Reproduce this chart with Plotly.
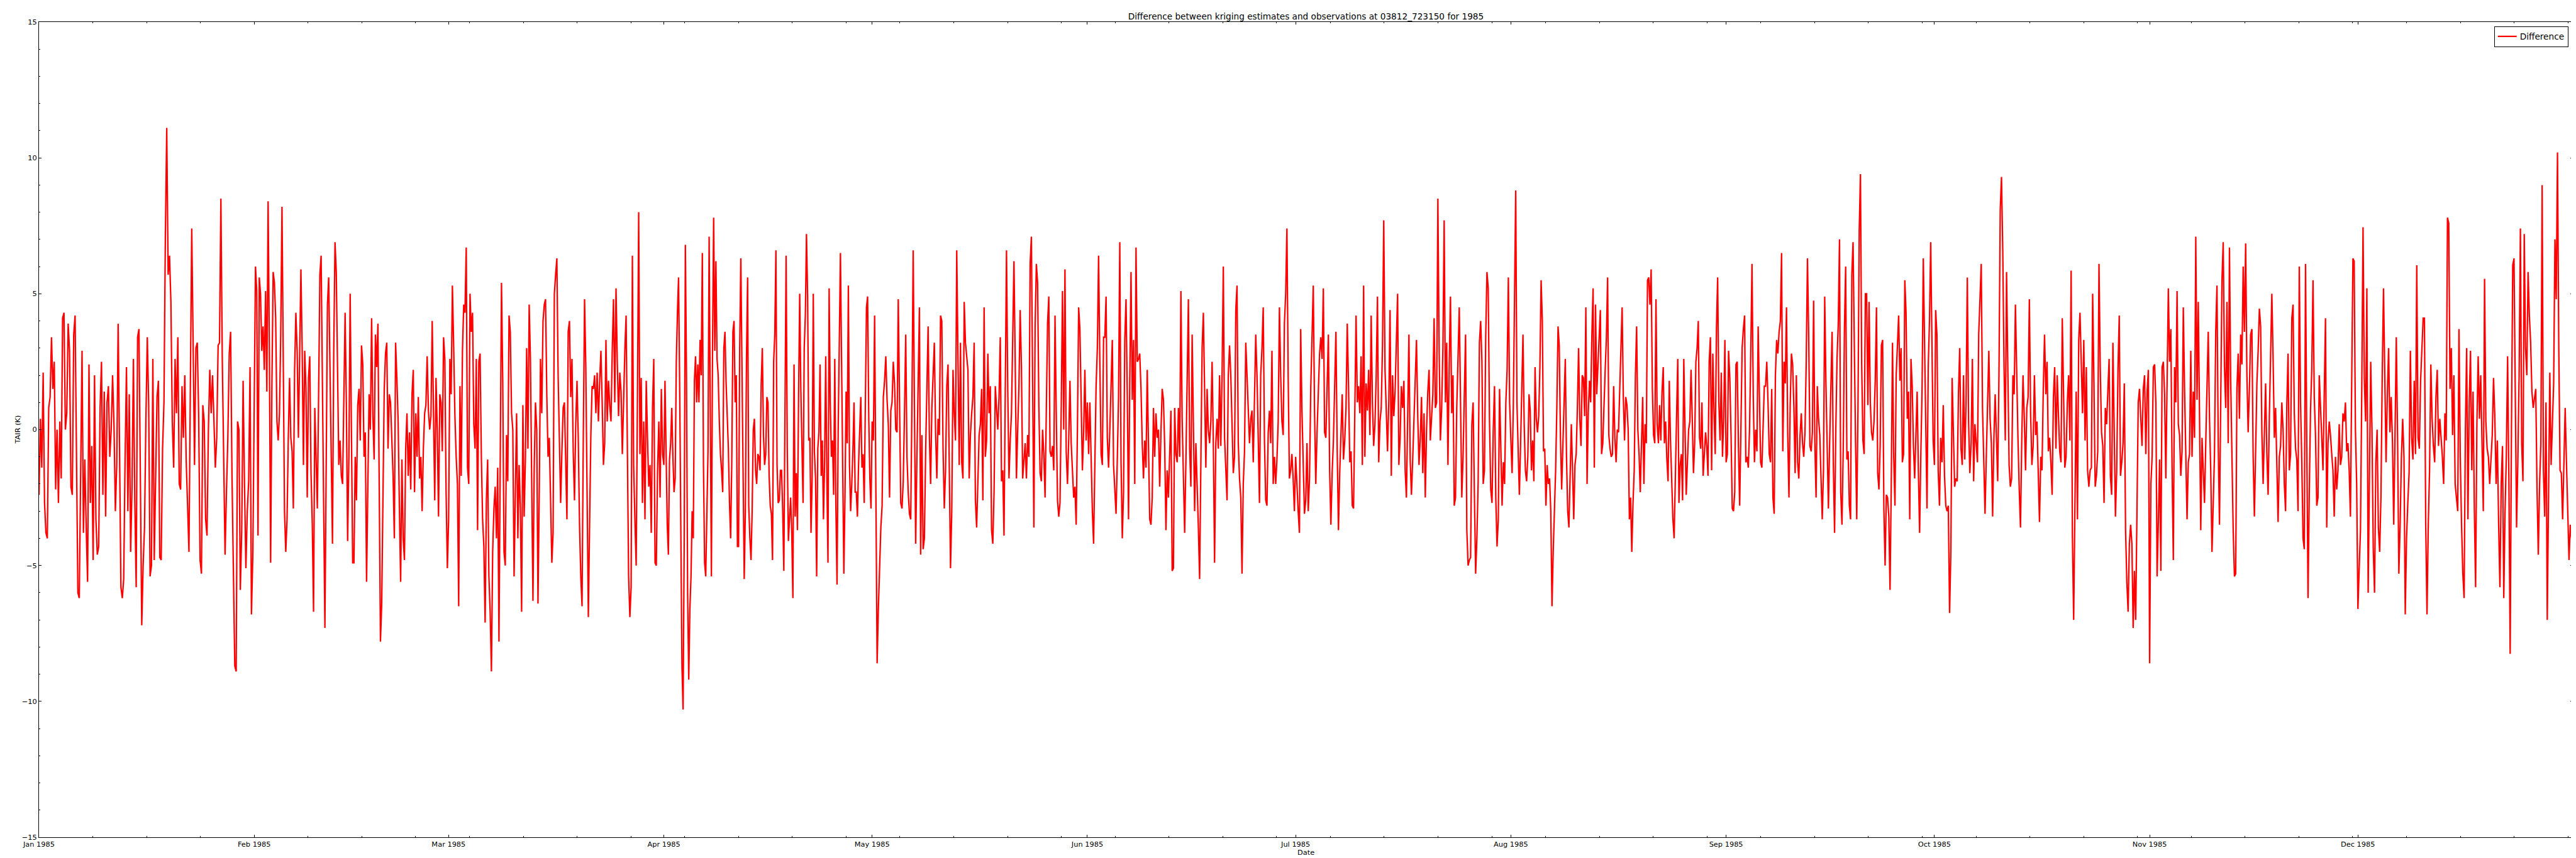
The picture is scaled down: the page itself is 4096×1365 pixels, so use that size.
import pandas as pd
import numpy as np
import plotly.graph_objects as go

jan_vals = [-2.4, 0.4, -1.4, 2.1, -2.7, -3.8, -4.0, 0.8, 1.2, 3.4, 1.5, 2.5, -2.2, 0.0, -2.7, 0.3, -1.8, 4.1, 4.3, 0.0, 0.6, 3.9, 2.9, -2.1, -2.4, 3.5, 4.2, -0.7, -6.0, -6.2, -2.3, 2.9, -3.8, -1.1, -3.6, -5.6, 2.4, -2.7, -0.6, -4.8, 2.0, -3.3, -4.6, -4.3, 0.8, 2.5, -2.4, 1.4, -3.2, 1.0, 1.6, -1.0, 0.0, 2.0, 0.2, -3.0, -1.3, 3.9, -0.7, -5.8, -6.2, -5.5, -1.1, 2.3, -3.0, 1.3, -4.5, -2.1, 2.6, -2.6, -5.8, 3.4, 3.7, -1.1, -7.2, -5.0, -3.6, 0.4, 3.4, 0.9, -5.4, -5.0, 2.6, -4.8, -1.4, 1.2, 1.8, -4.7, -4.8, -0.7, 1.0, 7.1, 11.1, 5.7, 6.4, 4.7, 0.3, -1.4, 2.6, 0.6, 3.4, -2.0, -2.2, 1.6, -0.3, 2.0, -1.1, -2.7, -4.5, 1.5, 7.4, 3.2, -1.3, 3.0, 3.2, 0.5, -4.8, -5.3, 0.9, 0.3, -3.3, -3.9, 0.0, 2.2, 0.6, 2.0, 0.5, -1.4, -0.3, 3.1, 3.2, 8.5, 2.6, -1.3, -4.6, -2.3, -0.3, 2.8, 3.6, -1.7, -5.0, -8.7, -8.9, 0.3, 0.0, -5.9, -3.7, 1.8, -2.0, -5.1, -3.0, -1.9, 2.3, -6.8, -4.6]
feb_vals = [0.4, 6.0, 5.1, -3.9, 5.6, 5.0, 2.9, 3.8, 2.2, 5.1, 1.4, 8.4, 2.9, -4.9, 1.6, 5.8, 5.4, 4.1, 0.3, -0.4, 0.6, 3.5, 8.2, 1.5, -3.0, -4.5, -3.3, -0.3, 1.9, -0.3, -0.8, -2.9, 2.2, 4.3, 2.9, -0.3, 3.1, 5.9, 2.9, -1.3, 2.9, 1.5, -2.5, 1.9, 2.7, -1.6, -3.5, -6.7, 0.8, -0.8, -2.9, 1.2, 5.7, 6.4, 1.5, -2.9, -7.3, -1.4, 4.6, 5.6, 2.1, -1.0, -4.2, 2.9, 6.9, 5.8, 2.6, -1.3, -0.4, -1.7, -2.0, 1.8, 4.3, 0.9, -4.1, -1.0, 5.0, 0.0, -4.9, -4.9, -1.0, -2.6, 0.9, 1.5, -0.4, 3.1, 2.4, -1.0, -0.1, -5.6, -1.4, 1.3, 0.0, 4.1, 0.5, -1.1, 3.5, 2.3, 3.9, -2.2, -7.8, -6.4, -3.0, 1.5, 2.8, 3.2, -0.7, 1.3, 1.0, -0.6, -1.7, -4.0, 3.2, 1.9, 0.3, -2.9, -5.6, -1.1, -4.0, -4.8, -0.7, 0.6, -1.7, -0.1, -2.2, 1.3, 2.2, -2.3, 0.6, -1.0, 1.2, -1.8, -1.0, -3.0, -0.7, 0.6, 0.9, 2.7, 0.7, 0.0, 0.5, 4.0, 0.0, -2.6, 1.9, 0.0, -3.2, 1.3, 1.0, -0.8, 3.4, 2.6, -2.3, -5.1]
mar_vals = [-3.3, 2.6, 1.3, 5.3, 3.1, 0.5, -1.0, -2.0, -6.5, 1.6, -1.7, 2.9, 4.6, 4.3, 6.7, -1.4, -2.0, 5.0, 3.6, 4.3, 0.2, -0.7, 2.6, -3.7, 2.5, 2.8, -1.0, -3.3, -4.3, -7.1, -2.6, -1.1, -5.4, -6.7, -8.9, -4.5, -2.9, -2.1, -4.0, -1.4, -7.8, -1.1, 5.4, 1.8, -4.5, -5.0, -0.2, -1.9, 4.2, 3.6, 0.6, 0.0, -5.4, -2.4, 0.6, -4.0, -1.3, -2.9, -6.7, 0.9, -3.2, -1.1, 3.0, -0.7, 4.6, 2.6, -2.4, -6.3, -1.4, 1.0, 0.0, -6.4, -2.3, 2.6, 0.6, 4.0, 4.6,
            4.8, 1.3, -1.0, -0.3, -2.5, -4.9, -3.8, 5.0, 5.7, 6.3, 2.0, -0.3, -2.7, -0.8, 0.8, 1.0, -1.1, -3.3, 3.6, 4.0, 1.2, 2.6, -0.8, -2.6, 0.2, 1.8, -0.3, -3.5, -5.4, -6.5, -0.3, 4.8, 2.3, -2.4, -6.9, -3.5, -0.2, 1.6, 1.5, 2.0, 0.6, 2.1, 0.3, 1.8, 2.9, 1.0, -1.3, -0.5, 3.3, 0.3, 1.8, 0.9, 0.3, 2.9, 4.8, 1.0, 5.2, 2.5, 0.5, 2.1, 1.4, -0.9, 1.3, 2.9, 4.2, -1.0, -5.4, -6.9, -5.8, 6.4, -1.3, -3.3, -5.0, 1.0, 8.0, -0.9, 1.9, -2.7, 0.3, -3.3, 1.8, -0.3, -2.1, -1.3, -3.8, 0.8, 2.6, -4.9, -5.0, -1.5, 0.3, -2.5, 1.5, -0.9]
apr_vals = [-1.3, 1.8, -0.7, -3.5, -4.6, -1.1, -0.5, 0.8, -1.0, -2.3, -1.8, 2.5, 4.3, 5.6, 1.5, -3.0, -8.7, -10.3, -4.0, 6.8, 2.0, -6.0, -9.2, -6.6, -5.4, -3.0, -4.0, 1.8, 2.7, 1.0, 2.4, 1.0, 3.3, 2.0, 6.5, -1.3, -4.9, -5.4, -2.6, -0.8, 7.1, -0.3, -5.4, 3.0, 7.8, 2.9, 6.2, 2.6, 2.0, 0.3, -0.9, -1.5, -2.3, 3.0, 3.6, 1.7, 0.3, -0.7, -2.7, -4.0, -1.2, 3.6, 4.0, 1.0, 2.0, -4.3, -4.3, 3.0, 6.3, 2.5, -1.0, -5.5, -3.0, 2.6, 5.6, -2.8, -4.0, -4.8, -3.0, 0.0, 0.4, -1.5, -2.0, -0.9, -1.0, -1.5, 1.7, 3.0, -0.2, -1.3, -0.9, 1.2, 1.0, -1.7, -2.8, -3.1, -4.8, 2.5, 3.5, 6.6, -1.3, -2.7, -2.6, -1.5, -1.5, -3.0, -5.2, 0.0, 6.4, -0.6, -4.1, -3.3, -2.5, -3.8, -6.2, 2.4, -3.2, -1.6, -3.7, 1.1, 5.0, 1.5, -0.6, -2.7, 3.0, 4.2, 7.2, 4.9, -0.4, -0.3, -3.8, -1.8, 5.0, -0.8, -1.8, -5.4, -0.7, -0.1, 2.4, -1.7, -0.4, -3.3, -1.2, 2.7, -1.8, -4.9, 5.2, 1.0, -1.0, -0.4, -2.4, 2.6, -2.9, -5.7, 0.0, 4.0, 6.5, 2.5, -2.0, -5.3, -2.5, 1.4, -0.5, 5.3, -1.3, -3.0, -2.0, -0.8, 1.0, -2.3, -2.3, -3.2, -1.3, -0.2, 1.2, -1.4, -0.9, -2.7, 0.4, 4.5, 4.9, 0.5, -1.8, -2.9]
may_vals = [0.3, -0.4, 4.2, -3.0, -8.6, -6.6, -5.0, -3.6, -2.8, 1.2, 1.8, 2.7, 1.1, 0.2, -2.5, 0.7, 1.0, 2.5, 1.7, 0.0, -0.1, 4.8, 1.1, -2.7, -2.9, -1.9, 0.6, 3.5, -1.0, -2.3, -3.1, -3.3, 1.0, 6.6, 0.8, -4.2, -1.0, 2.0, 4.5, -4.6, -0.2, -4.4, -4.0, -0.8, 1.3, 3.8, -0.2, -2.0, 0.8, 2.0, 3.2, -0.1, -1.8, 0.4, -0.2, 4.2, 4.0, -0.7, -2.9, -1.5, 1.6, 2.4, -0.9, -5.1, -3.0, 2.2, 0.6, -0.4, 6.6, 2.4, -1.3, 3.2, -1.2, -1.8, 4.7, 3.2, 2.6, 2.2, -1.8, -0.2, 0.6, 1.2, 3.2, -2.6, -3.6, -1.6, -0.2, 0.2, 1.5, -2.6, 4.5, -1.0, -0.4, 2.8, 0.6, 1.6, -3.7, -4.2, -2.3, 1.6, 0.8, 0.0, 1.2, 3.4, -1.9, -1.5, -3.9, 1.7, 6.6, 1.5, -1.8, -0.4, 0.6, 3.4, 6.2, 2.5, -1.8, 0.0, 1.6, 4.4, 2.3, -1.8, -1.1, -0.5, -1.8, -0.2, -1.0, 6.1, 7.1, 2.2, -3.6, 3.8, 6.1, 5.4, 0.9, -1.6, -1.9, 0.0, -0.9, -2.5, 0.4, 3.9, 4.9, -0.8, -1.0,
            -0.6, -1.5, 4.2, 0.6, -2.6, -3.2, -2.7, 0.8, 5.1, 0.0, 5.9, -0.8, -2.0, -0.4, 1.8, -0.5, -1.5, -2.5, -2.1, -3.5, 0.0, 4.5, 3.7, 1.0, -1.5, -0.1, 2.2, -0.4]
jun_vals = [1.0, -0.9, 1.0, -1.0, -3.0, -4.2, -0.9, 1.6, 3.0, 6.4, 2.5, -0.9, -1.3, 3.4, 3.4, 4.9, -0.3, -1.4, 0.0, 1.8, 3.3, -1.3, -2.1, -3.1, -1.1, 1.2, 6.9, -1.2, -4.0, -2.3, 3.3, 4.8, 1.3, -3.3, 1.8, 5.8, 1.1, 3.3, -2.0, 6.7, 2.5, 2.6, 2.8, 1.5, -0.5, -1.8, -0.4, -1.4, 2.2, -1.0, -3.3, -3.5, -2.5, 0.8, -1.0, 0.6, -0.3, 0.0, -2.1, -0.1, 1.5, 1.1, -0.6, -3.7, -1.5, -2.5, -1.0, 0.7, -5.2, -5.1, 0.8, -0.9, -1.2, 0.8, -1.0, 5.1, 0.4, -1.6, -3.8, -1.2, 1.8, 4.8, -0.7, -2.1, 3.5, 0.4, -3.0, -0.5, -1.9, -3.6, -5.5, -0.3, 3.0, 4.3, 0.8, -1.4, 1.5, 0.0, -0.5, 0.3, 2.5, -0.5, -4.9, -0.5, 0.4, -0.7, 2.0, -0.6, 2.0, 6.0, -0.3, -1.4, -2.6, 2.0, 3.1, 2.0, 0.0, -1.6, -1.0, 4.4, 5.3, -0.5, -1.8, -2.5, -5.3, -2.0, -0.8, 3.2, 2.0, 0.6, -0.5, 0.4, 0.7, -1.2, 1.7, 3.5, 2.0, -0.8, -2.7, 2.0, 3.0, 4.5, -0.4, -2.6, -2.8, -0.1, 0.7, -0.5, 2.9, -2.0, -1.0, -2.0, -1.1, 0.3, 4.5, 2.0, 0.3, -0.2, 3.9, 5.0, 7.4, 2.0, -1.8, -1.5, -0.9, -1.8, -3.0]
jul_vals = [-1.0, -2.2, -3.0, -3.8, 3.7, 0.7, -1.2, -3.1, -2.6, -0.5, -3.0, -1.8, 1.5, 3.8, 5.3, 0.7, -2.0, -0.1, 1.6, 2.8, 3.4, 2.6, 5.2, -0.1, -0.3, 1.6, 3.5, -1.5, -3.5, -1.6, -0.4, 1.6, 3.6, -0.7, -3.7, -1.6, -0.1, 1.3, -1.1, -0.4, 0.8, 3.9, 1.6, -1.2, -0.8, -2.8, -2.9, 1.0, 4.2, 1.0, 1.6, 0.6, 2.7, -1.3, 5.3, -1.0, 1.7, 0.7, 2.2, -0.2, 4.2, 1.0, -0.6, 0.2, 2.0, 4.9, -1.2, 0.3, 0.8, 3.1, 7.7, 2.2, 0.4, -0.8, 1.0, 4.4, -1.7, 2.0, 0.5, 1.4, 3.2, 5.0, -1.3, -0.3, 1.6, 0.8, 1.8, -1.5, -2.5, 1.0, 3.5, -1.1, -2.4, -1.1, 0.3, 2.1, 3.3, 0.5, -1.3, -0.3, 1.2, -1.6, 0.6, -2.5, 0.0, 1.4, 2.2, -0.4, 0.5, 1.3, 4.1, 0.8, 1.0, 8.5, 2.9, -0.4, 0.8, 3.0, 7.7, 1.0, 3.2, -1.3, 2.4, 4.9, 0.6, 2.0, -2.8, -2.5, 0.8, 2.6, 4.5, 1.0, -2.5, -1.0, 0.9, 3.5, -3.7, -5.0, -4.8, -4.7, 0.2, 1.0, -2.3, -5.3, -4.0, -1.9, 3.2, 4.0, 2.5, -2.0, -1.5, 3.4, 5.8, 5.2, 0.4, -2.2, -2.7, 0.0, 1.6, -2.5, -4.3, -3.3, 1.5, -0.5, -2.8, -1.2, -2.0, 1.0, 2.2, 5.6, 1.0]
aug_vals = [-0.4, -1.6, 0.8, 5.0, 8.8, 1.0, -1.0, -2.4, -0.6, 1.4, 3.5, 0.2, -1.5, -1.9, -1.0, 1.3, 0.7, -1.5, -0.4, -1.9, 2.3, 0.4, -0.1, 0.5, 2.3, 5.5, 4.0, -0.8, -0.7, -2.8, -1.3, -2.0, -1.8, -3.0, -6.5, -4.5, -3.0, -1.5, 0.8, 3.8,
            3.1, -0.3, -2.2, -0.5, 1.3, 2.6, -1.0, -3.0, -3.6, -1.8, 0.2, -1.5, -3.3, -1.3, -0.9, 0.8, 3.0, 0.4, -0.6, 2.0, 1.9, 0.5, 4.5, -2.0, 0.6, 1.8, 1.0, 3.5, 5.2, -1.4, 4.6, 1.3, 2.5, 3.4, 4.4, -0.9, -0.5, 1.0, 2.2, 3.4, 5.6, -0.2, -0.7, -1.0, -0.9, 1.6, -0.3, -1.2, 0.0, -0.1, 1.6, 3.2, 4.5, 1.2, -0.4, 1.2, 0.9, 0.0, -3.3, -2.5, -4.5, -2.7, -1.5, 2.0, 3.8, 0.0, -0.9, -2.3, -0.5, 1.2, -2.0, 0.2, -0.5, 5.5, 5.6, 4.6, 5.9, 1.5, -0.2, -0.5, 4.8, 0.2, -0.5, 0.9, -0.4, 1.4, 2.3, -0.5, 0.3, -1.1, -1.9, 1.8, -0.4, -1.9, -3.3, -4.0, -1.6, 0.4, 2.6, -2.7, -1.3, -0.9, -2.6, 2.6, 0.5, -2.4, -1.2, 0.0, 0.3, 2.2, 0.4, -1.6, -0.5, 2.5, 3.0, 4.0, -0.3, -0.7, 1.0, -1.7, -0.9, -0.1, -0.6, -1.7, 2.5, 3.4, -1.5, 2.8, 0.7, -0.9, 3.7, 5.6, 1.0, -0.4, 2.1, -1.0, 0.4, 3.3]
sep_vals = [-1.2, -0.9, 2.9, 1.9, -0.2, -2.9, -3.0, -2.3, 2.4, 2.5, -0.6, -2.8, 0.0, 3.0, 3.7, 4.2, -1.2, -1.0, -1.4, 0.0, 2.8, 6.1, 1.3, -1.2, 0.0, -0.8, 3.8, 1.0, -1.2, -1.4, 0.3, 1.6, 1.6, 2.5, 1.0, -0.9, -1.2, 1.5, -2.5, -3.1, 2.0, 3.3, 2.8, 3.6, 4.0, 6.5, -0.8, 2.5, 1.7, 4.5, -0.2, -2.5, 0.9, 2.8, 2.4, 0.8, -1.6, 2.0, -1.2, -1.8, -0.2, 0.6, -0.5, -1.0, -0.1, 2.5, 6.3, 3.5, -0.6, -0.8, -0.1, 4.75, -0.5, -2.5, 1.6, 0.4, -0.2, -1.8, -3.3, -1.5, 4.9, 1.7, -0.4, -2.9, -0.5, 1.5, 3.6, -1.3, -3.8, 0.0, 2.6, 3.9, 7.0, -2.3, -3.5, -0.8, 3.7, 6.0, -1.1, -0.8, -2.8, -3.3, 5.7, 6.9, 2.5, -0.4, -3.3, 0.8, 7.3, 9.4, 2.4, -0.4, -0.9, 5.0, 5.0, 0.9, 4.7, 1.0, -0.1, -0.4, 0.3, 1.8, 4.5, -1.6, -2.2, -0.6, 3.1, 3.3, -2.9, -5.0, -2.4, -2.5, -3.2, -5.9, -2.0, 3.2, -1.0, -2.8, 2.0, 3.0, 4.2, 1.8, 3.0, -1.2, -0.9, 5.5, 4.3, 0.4, 1.4, -3.3, 2.6, 1.6, -0.6, -1.8, 0.0, 1.4, -1.5, -3.8, -0.9, 1.5, 6.3, 3.3, 0.5, -2.9, 2.3, 4.0, 6.9, 2.6, -0.4]
oct_vals = [-1.3, 4.4, 3.5, -1.5, -2.8, -0.3, -1.2, 0.9, -1.7, -2.8, -3.0, -2.8, -6.75, -4.5, 1.9, 0.0, -2.1, -1.8, -1.9, 1.3, 3.0, -0.7, -1.3, 2.0, -1.1, 1.0, 5.6, 0.3, -1.6, -0.5, 2.6, -1.9, 0.2, -0.5, -1.2, 3.5, 4.7, 6.1, 0.8, -1.0, -3.1, -1.0, 0.9, 2.9, 0.4, -0.5, -3.2, -0.3, 1.3, -0.4, -1.9, 2.0, 8.1, 9.3, 6.6, 2.3, -0.4, 5.8, 2.0, -1.3, -2.1, -1.8, 2.0, 1.3, 4.6, 1.8, -0.3, -2.2, -3.6, -0.4, 2.0, 0.4, -1.5, 0.8, 1.2, 4.8, 0.6, -1.3, -0.6, 2.0, -0.2, 0.3, -1.8, -3.4, -1.0, -1.5, 1.5, 3.5, 1.3, 2.5, -0.8, -0.3, -1.2, -2.4, 1.2, 2.3, -0.7, 2.0, 0.5, -0.8, -1.2, 4.1, 1.4, -1.4,
            -1.0, 1.0, 2.0, -0.4, 5.85, -3.9, -7.0, -2.5, 1.4, -3.3, 3.3, 4.3, 2.4, 0.6, 3.3, -0.4, 2.3, -1.5, -2.1, -1.5, -1.4, 5.0, 1.8, -2.1, -1.7, -0.8, 6.1, 2.3, -0.1, -0.6, -2.7, 0.8, 0.2, 1.3, 2.6, -1.7, -2.4, 3.2, -0.2, -3.2, -1.5, 2.2, 4.2, -1.7, -1.2, -0.5, 1.7, -3.7, -5.6, -6.7, -4.2, -3.5, -4.2, -7.3, -5.2, -7.0, -3.0, 1.0, 1.5, 0.5, -0.6, 1.5, 2.0, -0.9, 1.4, 2.2]
nov_vals = [-8.6, -2.0, -1.0, 2.3, 2.4, 1.0, -5.4, -3.4, -1.1, -5.2, 2.3, 2.5, 1.3, -1.8, 1.4, 5.2, 2.5, 3.7, -1.4, -4.8, 2.3, 1.0, 5.1, 0.2, -0.2, -1.7, -0.8, 4.5, 1.5, -0.9, -3.3, -1.2, -0.9, 2.9, -1.0, 1.4, -0.3, 7.1, 1.1, 4.7, 1.0, -3.7, -0.3, -1.5, -2.7, -0.5, 1.9, 3.6, 0.4, -1.5, -4.5, -2.5, -0.9, 3.6, 5.3, -0.5, -3.5, 1.0, 5.5, 6.9, 2.3, 0.8, 4.7, -0.5, 6.7, 1.8, -1.2, -3.7, -5.4, -5.3, 1.5, 2.8, 0.4, 3.5, 2.4, 6.0, 3.6, 6.85, 2.0, -0.1, 1.5, 3.5, 3.7, -1.0, -3.2, -0.8, 1.7, 2.9, 4.45, 3.8, -0.1, -2.0, -0.2, 1.7, -0.9, -2.4, 0.5, 2.7, 5.0, 2.6, -0.3, 0.8, -1.2, -3.4, -1.0, -0.6, 1.0, 0.0, -2.0, -3.0, 0.9, 2.8, -1.5, -0.9, 4.1, 4.6, 0.6, -0.7, -1.1, -3.0, 6.0, 1.0, -1.2, -4.0, -4.4, 6.1, -0.5, -6.2, -2.3, 0.7, 2.2, 5.5, 1.2, -0.2, -2.8, -2.5, 2.0, 1.0, -0.3, -1.5, 1.3, 4.1, -3.6, -0.5, 0.3, -0.2, -0.9, -1.5, -3.2, -1.0, -2.2, -1.5, 0.2, -1.3, -1.0, 0.6, 0.3, 1.0, -0.8, -0.5, -1.5, -3.2, 1.7, 6.3, 6.2, 0.0, -2.0]
dec_vals = [-6.6, -5.1, -3.7, 1.4, 7.45, 1.9, 0.3, 5.2, -6.0, -1.8, 2.5, 0.0, -4.4, -6.0, -1.2, 0.0, -3.6, -4.5, -2.5, 2.0, 5.2, 2.0, -1.2, 1.3, 3.0, -0.1, 1.2, -0.4, -3.5, -0.2, 3.4, -0.3, -5.3, -3.5, -1.0, 0.4, -1.0, -6.8, -4.0, -2.7, -1.6, 2.9, -0.3, -1.1, 1.8, -0.9, 6.05, -0.3, -0.7, 1.8, 3.2, 4.1, 4.1, -3.5, -6.8, -3.5, -1.5, 2.4, 0.4, -0.6, -1.2, 1.2, 2.2, -0.6, 0.4, -0.3, -1.0, -2.0, 0.6, -0.4, 7.8, 7.6, 1.5, 3.0, -0.2, 2.0, -2.0, -2.5, -3.0, 3.7, -1.0, -3.5, -5.3, -6.2, 0.0, 3.0, -3.3, 1.0, 2.9, -1.5, 1.4, -2.9, -5.8, 0.2, 2.7, 0.4, 2.0, -0.5, -3.0, 5.55, 0.3, -0.7, -1.0, -2.0, -1.2, -0.2, 1.9, 0.5, -2.0, -0.4, -3.5, -5.8, -2.0, -0.6, -6.2, -3.0, -1.0, 2.7, -1.8, -8.25, 0.0, 6.05, 6.3, 0.8, -3.6, -1.2, 2.0, 7.4, -0.5, -1.9, 7.2, 3.0, 2.0, 5.8, 4.2, 3.2, 1.4, 0.8, 1.2, 1.5, -2.2, -4.6, -2.0, -0.5, 9.0, -1.5, -3.2, 1.0, -7.0, -2.0, 2.1, -1.3, 0.5, 1.7, 7.0, 4.8, 10.2, 3.0, -1.5, -1.6, -3.3, -1.5, 0.8, -1.2, -2.8, -4.8, -3.5, -4.0, 1.0]

month_values = [jan_vals, feb_vals, mar_vals, apr_vals, may_vals, jun_vals,
                jul_vals, aug_vals, sep_vals, oct_vals, nov_vals, dec_vals]

YEAR = 1985
series_name = "Difference"
title_text = "Difference between kriging estimates and observations at 03812_723150 for 1985"
x_range = ["1985-01-01 00:00", "1985-12-31 23:00"]
y_range = [-15, 15]

# sample times: each month's readings spread evenly over that month
times = []
values = []
for m, vals in enumerate(month_values, start=1):
    start = pd.Timestamp(YEAR, m, 1)
    n = len(vals)
    if m < 12:
        end = pd.Timestamp(YEAR, m + 1, 1)
        step = (end - start) / n
    else:
        end = pd.Timestamp(x_range[1])
        step = (end - start) / (n - 1)
    times.extend([start + k * step for k in range(n)])
    values.extend(vals)

S = 0.948
FONT = "DejaVu Sans"

fig = go.Figure()
fig.add_trace(go.Scatter(
    x=times, y=values, mode="lines", name=series_name,
    line=dict(color="#ff0000", width=2.4 * S),
    showlegend=True,
))

axis_common = dict(
    showline=True, linecolor="#000000", linewidth=1, mirror="ticks",
    ticks="inside", tickcolor="#000000", tickwidth=1,
    showgrid=False, zeroline=False,
    tickfont=dict(family=FONT, size=12 * S, color="#000000"),
)

fig.update_xaxes(
    type="date", range=x_range,
    tick0="1985-01-01", dtick="M1", tickformat="%b %Y",
    ticklen=4 * S,
    minor=dict(ticks="inside", ticklen=2 * S, tickcolor="#000000", tickwidth=1,
               tick0="1985-01-01", dtick=7.75 * 86400000, showgrid=False),
    **axis_common,
)
fig.update_yaxes(
    range=y_range, tick0=0, dtick=5, ticklen=4 * S,
    minor=dict(ticks="inside", ticklen=2 * S, tickcolor="#000000", tickwidth=1,
               dtick=1, showgrid=False),
    **axis_common,
)

W, H = 4096, 1365
ml, mr, mt, mb = 54, 13, 27, 41
plot_w = W - ml - mr
plot_h = H - mt - mb

fig.update_layout(
    width=W, height=H,
    margin=dict(l=ml, r=mr, t=mt, b=mb, pad=0),
    paper_bgcolor="#ffffff", plot_bgcolor="#ffffff",
    font=dict(family=FONT, size=12 * S, color="#000000"),
    title=dict(text=title_text, x=0.5, xref="paper", xanchor="center",
               y=1 - 18.3 / H, yref="container", yanchor="middle",
               font=dict(family=FONT, size=14.4 * S, color="#000000")),
    legend=dict(x=1 - 7.3 / plot_w, y=1 - 6.6 / plot_h, xanchor="right", yanchor="top",
                bgcolor="#ffffff", bordercolor="#000000", borderwidth=1,
                font=dict(family=FONT, size=14.4 * S, color="#000000"),
                tracegroupgap=0),
    showlegend=True,
    annotations=[
        dict(text="TAIR (K)", xref="paper", yref="paper",
             x=(19.0 - ml) / plot_w, y=0.5, xanchor="center", yanchor="middle",
             textangle=-90, showarrow=False,
             font=dict(family=FONT, size=12 * S, color="#000000")),
        dict(text="Date", xref="paper", yref="paper",
             x=0.5, y=-(1347.8 - (H - mb)) / plot_h, xanchor="center", yanchor="middle",
             showarrow=False,
             font=dict(family=FONT, size=12 * S, color="#000000")),
    ],
)

fig.write_html("out.html")
